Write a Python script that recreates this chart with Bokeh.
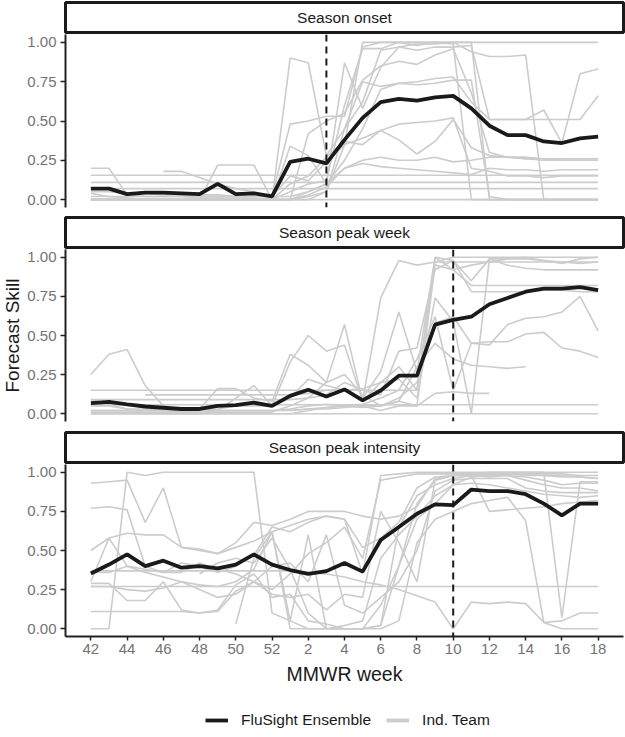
import math
from bokeh.plotting import figure
from bokeh.models import Range1d, FixedTicker, NumeralTickFormatter, Span, Label, Legend, LegendItem
from bokeh.layouts import column, row
from bokeh.embed import file_html
from bokeh.resources import INLINE

nan = float("nan")

# MMWR weeks of the season (x categories)
weeks = [42, 43, 44, 45, 46, 47, 48, 49, 50, 51, 52,
         1, 2, 3, 4, 5, 6, 7, 8, 9, 10, 11, 12, 13, 14, 15, 16, 17, 18]
tick_weeks = [42, 44, 46, 48, 50, 52, 2, 4, 6, 8, 10, 12, 14, 16, 18]

panel_titles = ["Season onset", "Season peak week", "Season peak intensity"]
ref_weeks = [3, 10, 10]   # dashed vertical lines

# FluSight Ensemble skill
onset_ens = [0.07, 0.07, 0.035, 0.045, 0.045, 0.04, 0.035, 0.10, 0.035, 0.04, 0.02,
             0.24, 0.26, 0.23, 0.38, 0.52, 0.62, 0.64, 0.63, 0.65, 0.66, 0.58, 0.47,
             0.41, 0.41, 0.37, 0.36, 0.39, 0.40]
pkweek_ens = [0.067, 0.076, 0.06, 0.046, 0.038, 0.03, 0.03, 0.05, 0.055, 0.07, 0.05,
              0.114, 0.153, 0.11, 0.155, 0.085, 0.148, 0.243, 0.243, 0.57, 0.60, 0.62,
              0.70, 0.74, 0.78, 0.80, 0.80, 0.81, 0.79]
pkint_ens = [0.353, 0.41, 0.475, 0.40, 0.435, 0.39, 0.40, 0.385, 0.41, 0.475, 0.41,
             0.375, 0.35, 0.368, 0.42, 0.365, 0.567, 0.65, 0.735, 0.795, 0.79, 0.89,
             0.88, 0.88, 0.86, 0.80, 0.725, 0.80, 0.80]

# Individual teams - season onset
onset_t1 = [0, 0, 0, 0, 0, 0, 0, 0, 0, 0, 0,
            0, 0.02, 0.05, 0.35, 1.0, 1.0, 1.0, 1.0, 1.0, 1.0, 1.0, 1.0, 1.0, 1.0, 1.0, 1.0, 1.0, 1.0]
onset_t2 = [0.2, 0.2, 0.03, 0.02, 0.02, 0.02, 0.01, 0.01, 0.01, 0.01, 0.0,
            0.05, 0.10, 0.12, 0.60, 0.96, 0.96, 1.0, 1.0, 1.0, 0.99, 0.0, 0.0, 0.0, 0.0, 0.0, 0.0, 0.0, 0.0]
onset_t3 = [nan, nan, nan, nan, 0.18, 0.18, 0.14, 0.10, 0.07, 0.05, 0.02,
            0.48, 0.50, 0.53, 0.53, 0.97, 1.0, 1.0, 0.98, 1.0, 1.0, 1.0, 0.0, 0.0, 0.0, 0.0, 0.0, 0.0, 0.0]
onset_t4 = [0, 0, 0, 0, 0, 0, 0, 0.22, 0.22, 0.22, 0.0,
            0.90, 0.87, 0.28, 0.45, 0.62, 0.95, 0.97, 0.95, 0.97, 0.97, 0.98, 0.51, 0.51, 0.51, 0.57, 0.36, 0.80, 0.83]
onset_t5 = [0.04, 0.02, 0.01, 0, 0, 0, 0, 0, 0, 0, 0,
            0.34, 0.28, 0.10, 0.87, 0.58, 0.84, 0.97, 0.99, 0.99, 1.0, 0.94, 0.91, 0.91, 0.92, 0.0, 0.0, 0.0, 0.0]
onset_t6 = [0.155] * 29
onset_t7 = [0.11] * 29
onset_t8 = [0.07] * 29
onset_t9 = [0.0] * 29
onset_t10 = [0, 0, 0, 0, 0, 0, 0, 0, 0, 0, 0,
             0.10, 0.15, 0.27, 0.37, 0.35, 0.44, 0.38, 0.29, 0.37, 0.51, 0.33, 0.28, 0.27, 0.26, 0.25, 0.25, 0.25, 0.25]
onset_t11 = [0.02] * 11 + [0.02, 0.05, 0.10, 0.20, 0.25, 0.27, 0.25, 0.25, 0.27, 0.24, 0.25, 0.27, 0.27, 0.26, 0.26, 0.25, 0.25, 0.25]
onset_t12 = [0.0] * 11 + [0.0, 0.03, 0.08, 0.20, 0.23, 0.21, 0.20, 0.19, 0.18, 0.17, 0.16, 0.20, 0.19, 0.19, 0.18, 0.19, 0.19, 0.19]
onset_t13 = [0.0] * 11 + [0.0, 0.0, 0.05, 0.45, 0.75, 0.72, 0.74, 0.73, 0.74, 0.76, 0.76, 0.02, 0.0, 0.0, 0.0, 0.0, 0.0, 0.0]
onset_t14 = [0.0] * 11 + [0.0, 0.42, 0.50, 0.55, 0.76, 0.85, 0.88, 0.86, 0.92, 0.96, 0.68, 0.30, 0.27, 0.27, 0.26, 0.26, 0.26, 0.26]
onset_t15 = [0.05, 0.05, 0.04, 0.04, 0.03, 0.03, 0.03, 0.03, 0.02, 0.02, 0.02,
             0.15, 0.12, 0.24, 0.35, 0.39, 0.44, 0.48, 0.49, 0.50, 0.52, 0.20, 0.18, 0.15, 0.15, 0.14, 0.15, 0.15, 0.15]
onset_t16 = [0.0] * 11 + [0.0, 0.05, 0.10, 0.25, 0.45, 0.70, 0.74, 0.75, 0.77, 0.78, 0.62, 0.51, 0.51, 0.51, 0.51, 0.51, 0.51, 0.66]

# Individual teams - season peak week
pkweek_t1 = [0.25, 0.38, 0.41, 0.18, 0.05, 0.02, 0.02, 0.03, 0.05, 0.05, 0.05,
             0.33, 0.50, 0.40, 0.44, 0.08, 0.74, 0.98, 0.95, 0.97, 1.0, 1.0, 1.0, 1.0, 1.0, 1.0, 1.0, 1.0, 1.0]
pkweek_t2 = [0.15] * 19 + [0.97] * 10
pkweek_t3 = [nan, nan, nan, 0.12, 0.12, 0.12, 0.12, 0.12, 0.12, 0.12, 0.12,
             0.12, 0.13, 0.15, 0.15, 0.16, 0.20, 0.22, 0.10, 0.74, 0.59, 0.0, 0.99, 0.95, 0.93, 0.92, 0.92, 0.92, 0.92]
pkweek_t4 = [0.09, 0.06, 0.03, 0.03, 0.02, 0.01, 0.03, 0.16, 0.16, 0.10, 0.08,
             0.38, 0.31, 0.20, 0.57, 0.08, 0.20, 0.30, 0.15, 1.0, 0.92, 0.82, 0.82, 0.82, 0.82, 0.82, 0.82, 0.82, 0.82]
pkweek_t5 = [0.05, 0.05, 0.03, 0.0, 0.0, 0.0, 0.0, 0.02, 0.10, 0.18, 0.05,
             0.10, 0.22, 0.18, 0.15, 0.10, 0.27, 0.65, 0.27, 1.0, 0.98, 0.78, 0.78, 0.78, 0.78, 0.79, 0.79, 0.78, 0.78]
pkweek_t6 = [nan] * 11 + [0.02, 0.03, 0.04, 0.05, 0.05, 0.05, 0.08, 0.30, 0.45, 0.35, 0.31, 0.30, 0.29, 0.30, nan, nan, nan, nan]
pkweek_t7 = [0.0] * 11 + [0.0, 0.02, 0.04, 0.05, 0.06, 0.10, 0.15, 0.35, 0.62, 0.15, 0.45, 0.46, 0.46, 0.51, 0.52, 0.42, 0.40, 0.36]
pkweek_t8 = [0.02] * 11 + [0.03, 0.05, 0.06, 0.05, 0.04, 0.05, 0.10, 0.20, 0.58, 0.62, 0.45, 0.44, 0.57, 0.61, 0.62, 0.65, 0.75, 0.53]
pkweek_t9 = [0.0] * 29
pkweek_t10 = [0.057] * 29
pkweek_t11 = [0.02] * 11 + [0.02, 0.03, 0.03, 0.04, 0.05, 0.02, 0.05, 0.05, 0.95, 0.92, 0.95, 0.97, 0.99, 1.0, 0.98, 0.96, 0.99, 1.0]
pkweek_t12 = [0.01] * 11 + [0.05, 0.10, 0.12, 0.20, 0.15, 0.12, 0.40, 0.42, 0.92, 0.98, 0.85, 0.99, 0.99, 0.99, 0.98, 0.97, 0.96, 0.97]
pkweek_t13 = [0.09] * 11 + [0.09, 0.10, 0.20, 0.25, 0.12, 0.05, 0.08, 0.05, 0.13, 0.14, 0.13, 0.13, nan, nan, nan, nan, nan, nan]

# Individual teams - season peak intensity
pkint_t1 = [0.93, 0.94, 0.95, 0.68, 0.90, 0.52, 0.50, 0.48, 0.52, 0.56, 0.62,
            0.66, 0.70, 0.72, 0.70, 0.35, 0.98, 0.99, 1.0, 1.0, 1.0, 1.0, 1.0, 1.0, 1.0, 1.0, 1.0, 1.0, 1.0]
pkint_t2 = [0.0, 0.0, 1.0, 0.98, 1.0, 1.0, 1.0, 1.0, 1.0, 1.0, 0.10,
            0.05, 0.0, 0.0, 0.0, 0.0, 0.02, 0.40, 0.80, 0.95, 0.98, 0.99, 1.0, 1.0, 1.0, 1.0, 0.07, 0.94, 0.94]
pkint_t3 = [0.77, 0.78, 0.76, 0.40, 0.36, 0.36, 0.42, 0.38, 0.35, 0.30, 0.22,
            0.20, 0.22, 0.12, 0.22, 0.20, 0.75, 0.55, 0.30, 0.95, 0.98, 0.99, 0.99, 0.99, 0.98, 0.98, 0.98, 0.97, 0.96]
pkint_t4 = [0.50, 0.58, 0.61, 0.60, 0.60, 0.52, 0.51, 0.48, 0.55, 0.68, 0.66,
            0.70, 0.75, 0.75, 0.75, 0.72, 0.70, 0.72, 0.78, 0.96, 0.98, 0.98, 0.97, 0.98, 0.97, 0.95, 0.92, 0.93, 0.93]
pkint_t5 = [0.30, 0.58, 0.40, 0.36, 0.33, 0.30, 0.28, 0.27, 0.30, 0.38, 0.62,
            0.0, 0.0, 0.0, 0.02, 0.05, 0.45, 0.60, 0.72, 0.85, 0.92, 0.97, 0.98, 0.98, 0.95, 0.92, 0.90, 0.90, 0.88]
pkint_t6 = [0.27] * 29
pkint_t7 = [0.11, 0.11, 0.11, 0.11, 0.11, 0.11, 0.10, 0.11, 0.24, 0.30, 0.25,
            0.35, 0.48, 0.55, 0.65, 0.45, 0.95, 0.97, 0.99, 0.99, 0.99, 0.99, 0.99, 0.99, 0.99, 0.98, 0.97, 0.97, 0.96]
pkint_t8 = [0.37] * 11 + [0.37, 0.36, 0.35, 0.33, 0.30, 0.28, 0.25, 0.21, 0.17, 0.0, 0.17, 0.16, 0.17, 0.16, 0.04, 0.05, 0.10, 0.10]
pkint_t9 = [0.29, 0.29, 0.18, 0.18, 0.30, 0.12, 0.10, 0.12, 0.28, 0.35, 0.20,
            0.22, 0.05, 0.03, 0.0, 0.0, 0.0, 0.05, 0.55, 0.70, 0.75, 0.80, 0.82, 0.84, 0.69, 0.04, 0.0, 0.0, 0.0]
pkint_t10 = [nan] * 8 + [0.03, 0.45, 0.62,
                         0.05, 0.60, 0.0, 0.0, 0.0, 0.02, 0.65, 0.85, 0.92, 0.96, 0.98, 0.75, 0.76, 0.77, 0.78, 0.80, 0.81, 0.82]
pkint_t11 = [0.36, 0.36, 0.40, 0.38, 0.36, 0.42, 0.40, 0.36, 0.40, 0.47, 0.65,
             0.62, 0.68, 0.72, 0.70, 0.52, 0.58, 0.68, 0.90, 0.97, 0.98, 0.98, 0.98, 0.99, 0.99, 0.99, 0.99, 0.98, 0.98]
pkint_t12 = [0.27, 0.27, 0.25, 0.24, 0.26, 0.30, 0.25, 0.20, 0.22, 0.30, 0.40,
             0.42, 0.30, 0.60, 0.15, 0.10, 0.20, 0.30, 0.50, 0.88, 0.95, 0.96, 0.96, 0.96, 0.90, 0.88, 0.87, 0.87, 0.87]
pkint_t13 = [nan, nan, nan, nan, nan, nan, 0.35, 0.42, 0.45, 0.42, 0.58,
             0.38, 0.10, 0.0, 0.0, 0.0, 0.15, 0.40, 0.70, 0.80, 0.92, 0.93, 0.92, 0.90, 0.88, 0.86, 0.85, 0.84, 0.85]

ensembles = [onset_ens, pkweek_ens, pkint_ens]
teams = [
    [onset_t1, onset_t2, onset_t3, onset_t4, onset_t5, onset_t6, onset_t7, onset_t8,
     onset_t9, onset_t10, onset_t11, onset_t12, onset_t13, onset_t14, onset_t15, onset_t16],
    [pkweek_t1, pkweek_t2, pkweek_t3, pkweek_t4, pkweek_t5, pkweek_t6, pkweek_t7,
     pkweek_t8, pkweek_t9, pkweek_t10, pkweek_t11, pkweek_t12, pkweek_t13],
    [pkint_t1, pkint_t2, pkint_t3, pkint_t4, pkint_t5, pkint_t6, pkint_t7, pkint_t8,
     pkint_t9, pkint_t10, pkint_t11, pkint_t12, pkint_t13],
]

FONT = "Liberation Sans"
DARK = "#1a1a1a"
GREY = "#cccccc"
TICKTXT = "#737373"
LABEL_W = 24          # width of the y-title strip on the left
W = 625 - LABEL_W     # width of the main column
LB, RB = 63 - LABEL_W, 2
FRAME_H = 172

xpos = list(range(len(weeks)))


def make_strip(title):
    s = figure(width=W, height=34, x_range=Range1d(0, 1), y_range=Range1d(0, 1),
               toolbar_location=None, output_backend="svg",
               min_border_left=LB, min_border_right=RB, min_border_top=2, min_border_bottom=2,
               x_axis_location=None, y_axis_location=None,
               outline_line_color=DARK, outline_line_width=3)
    s.xgrid.grid_line_color = None
    s.ygrid.grid_line_color = None
    s.background_fill_color = "white"
    s.add_layout(Label(x=0.5, y=0.5, text=title, text_align="center", text_baseline="middle",
                       text_font=FONT, text_font_size="15.5px", text_color=DARK))
    return s


def make_panel(k, frame_h, bottom, show_x):
    p = figure(width=W, height=frame_h + bottom,
               x_range=Range1d(-1.4, len(weeks) - 1 + 1.4), y_range=Range1d(-0.05, 1.05),
               toolbar_location=None, output_backend="svg",
               min_border_left=LB, min_border_right=RB, min_border_top=0, min_border_bottom=bottom,
               x_axis_location="below" if show_x else None,
               outline_line_color=None)
    p.xgrid.grid_line_color = None
    p.ygrid.grid_line_color = None
    for t in teams[k]:
        p.line(xpos, t, line_color=GREY, line_width=1.6)
    p.add_layout(Span(location=weeks.index(ref_weeks[k]), dimension="height",
                      line_color=DARK, line_width=2, line_dash="7 5"))
    p.line(xpos, ensembles[k], line_color=DARK, line_width=3.8)

    ya = p.yaxis[0]
    ya.ticker = FixedTicker(ticks=[0, 0.25, 0.5, 0.75, 1.0])
    ya.formatter = NumeralTickFormatter(format="0.00")
    ya.axis_line_color = "#222222"
    ya.axis_line_width = 2
    ya.major_tick_line_color = "#222222"
    ya.major_tick_line_width = 1.5
    ya.major_tick_out = 5
    ya.major_tick_in = 0
    ya.minor_tick_line_color = None
    ya.major_label_standoff = 4
    ya.major_label_text_font = FONT
    ya.major_label_text_font_size = "15px"
    ya.major_label_text_color = TICKTXT

    if show_x:
        xa = p.xaxis[0]
        tick_pos = [weeks.index(w) for w in tick_weeks]
        xa.ticker = FixedTicker(ticks=tick_pos)
        xa.major_label_overrides = {pos: str(w) for pos, w in zip(tick_pos, tick_weeks)}
        xa.axis_line_color = "#222222"
        xa.axis_line_width = 2
        xa.major_tick_line_color = "#222222"
        xa.major_tick_line_width = 1.5
        xa.major_tick_out = 4
        xa.major_tick_in = 0
        xa.minor_tick_line_color = None
        xa.major_label_standoff = 3
        xa.major_label_text_font = FONT
        xa.major_label_text_font_size = "15px"
        xa.major_label_text_color = TICKTXT
        xa.axis_label = "MMWR week"
        xa.axis_label_text_font = FONT
        xa.axis_label_text_font_size = "19.5px"
        xa.axis_label_text_font_style = "normal"
        xa.axis_label_text_color = DARK
        xa.axis_label_standoff = 6
    return p


s1 = make_strip(panel_titles[0])
p1 = make_panel(0, 173, 8, False)
s2 = make_strip(panel_titles[1])
p2 = make_panel(1, FRAME_H, 9, False)
s3 = make_strip(panel_titles[2])
p3 = make_panel(2, FRAME_H, 60, True)

LG_H = 40
lg = figure(width=W, height=LG_H, x_range=Range1d(0, 1), y_range=Range1d(0, 1),
            toolbar_location=None, output_backend="svg",
            min_border_left=LB, min_border_right=RB, min_border_top=0, min_border_bottom=0,
            x_axis_location=None, y_axis_location=None, outline_line_color=None)
lg.xgrid.grid_line_color = None
lg.ygrid.grid_line_color = None
rb = lg.line([5, 6], [5, 6], line_color=DARK, line_width=3.8)
rg = lg.line([5, 6], [5, 6], line_color=GREY, line_width=3.8)
legend = Legend(items=[LegendItem(label="FluSight Ensemble", renderers=[rb]),
                       LegendItem(label="Ind. Team", renderers=[rg])],
                orientation="horizontal", location=(140, 7),
                border_line_color=None, background_fill_alpha=0,
                padding=2, spacing=15, label_standoff=13, glyph_width=23, glyph_height=16,
                label_text_font=FONT, label_text_font_size="15.5px", label_text_color=DARK,
                margin=0)
lg.add_layout(legend)

main = column(s1, p1, s2, p2, s3, p3, lg)
total_h = 34 + (173 + 8) + 34 + (FRAME_H + 9) + 34 + (FRAME_H + 60) + LG_H

# left strip carrying the shared y-axis title, centred on the middle panel
yt = figure(width=LABEL_W, height=total_h, x_range=Range1d(0, LABEL_W), y_range=Range1d(0, total_h),
            toolbar_location=None, output_backend="svg", min_border=0,
            x_axis_location=None, y_axis_location=None, outline_line_color=None)
yt.xgrid.grid_line_color = None
yt.ygrid.grid_line_color = None
mid_panel_center = 34 + (173 + 8) + 34 + FRAME_H / 2
yt.add_layout(Label(x=LABEL_W / 2, y=total_h - mid_panel_center, text="Forecast Skill", angle=math.pi / 2,
                    text_align="center", text_baseline="middle",
                    text_font=FONT, text_font_size="19px", text_color=DARK))

layout = row(yt, main)
open("out.html", "w").write(file_html(layout, INLINE))
